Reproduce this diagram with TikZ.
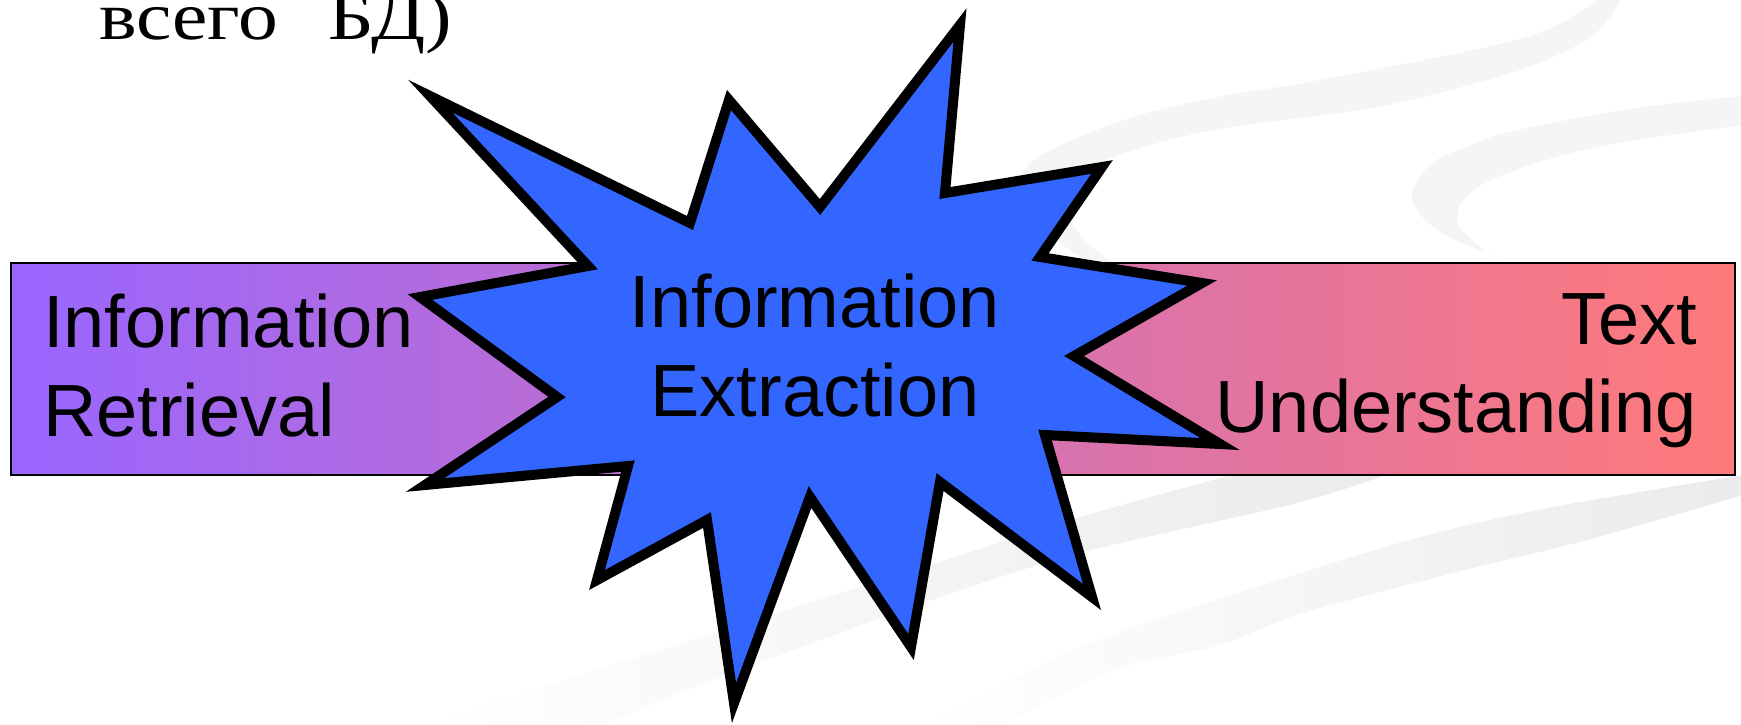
\documentclass[tikz,border=0pt]{standalone}
\usepackage{fontspec}
\setmainfont{Liberation Sans}
\newfontfamily\cyrserif{Liberation Serif}
\definecolor{lilac}{RGB}{153,102,255}
\definecolor{salmon}{RGB}{255,122,122}
\definecolor{starblue}{RGB}{51,102,255}
\begin{document}
\begin{tikzpicture}[x=1pt,y=-1pt,
  band/.style={fill=black!4},
  lowband/.style={left color=white,right color=black!8,draw=none},
  barbox/.style={draw=black,line width=1.5pt,left color=lilac,right color=salmon},
  burst/.style={draw=black,fill=starblue,line width=10pt,line join=miter,miter limit=30},
  big/.style={inner sep=0pt,font=\fontsize{74}{80}\selectfont},
  toptext/.style={inner sep=0pt,font=\cyrserif\fontsize{68}{72}\selectfont}]
\useasboundingbox (0,0) rectangle (1741,724);
% background swooshes
\fill[band] plot[smooth,tension=0.6] coordinates {(1600,-2) (1553,27) (1487,47) (1320,80) (1213,98) (1130,118) (1047,152) (1022,178) (1030,215) (1070,250) (1105,268)}
  -- plot[smooth,tension=0.6] coordinates {(1120,268) (1085,240) (1062,205) (1070,178) (1113,157) (1213,130) (1377,107) (1497,77) (1553,57) (1597,32) (1622,-2)} -- cycle;
\fill[band] plot[smooth,tension=0.6] coordinates {(1743,96) (1637,108) (1513,131) (1467,147) (1432,163) (1413,190) (1415,207) (1433,227) (1460,242) (1497,257)}
  -- plot[smooth,tension=0.6] coordinates {(1487,253) (1460,228) (1458,217) (1460,205) (1477,188) (1503,175) (1563,155) (1637,140) (1743,125)} -- cycle;
\path[lowband] plot[smooth,tension=0.5] coordinates {(420,726) (713,633) (930,565) (1080,517) (1250,470) (1400,430)}
  -- plot[smooth,tension=0.5] coordinates {(1400,470) (1297,503) (1080,553) (923,603) (713,680) (600,726)} -- cycle;
\path[lowband] plot[smooth,tension=0.5] coordinates {(920,726) (947,713) (1080,647) (1247,590) (1420,537) (1553,507) (1743,475)}
  -- plot[smooth,tension=0.5] coordinates {(1743,495) (1587,540) (1453,573) (1303,613) (1220,645) (1113,670) (1000,726)} -- cycle;
% top text (cut off by the page edge, as in the reference)
\node[toptext,anchor=base west] (cyr) at (99,39) {\scalebox{1.17}[1]{всего\hspace{43pt}БД)}};
% gradient bar
\path[barbox] (11,263) rectangle (1735,475);
% burst
\draw[burst] (430,96) -- (690,223) -- (729,100) -- (820,207) -- (960,25) -- (945,193)
  -- (1102,167) -- (1040,257) -- (1202,283) -- (1074,356) -- (1220,444) -- (1045,435)
  -- (1092,597) -- (940,482) -- (911,647) -- (810,497) -- (734,703) -- (707,520)
  -- (597,580) -- (628,466) -- (425,485) -- (557,397) -- (420,297) -- (588,266) -- cycle;
% texts
\node[big,anchor=base west] (ir1) at (43,347.5) {Information};
\node[big,anchor=base west] (ir2) at (43,436) {Retrieval};
\node[big,anchor=base] (ie1) at (815,327) {Information};
\node[big,anchor=base] (ie2) at (815,416.7) {Extraction};
\node[big,anchor=base east] (tu1) at (1697,344) {Text};
\node[big,anchor=base east] (tu2) at (1697,432) {Understanding};
\end{tikzpicture}
\end{document}
